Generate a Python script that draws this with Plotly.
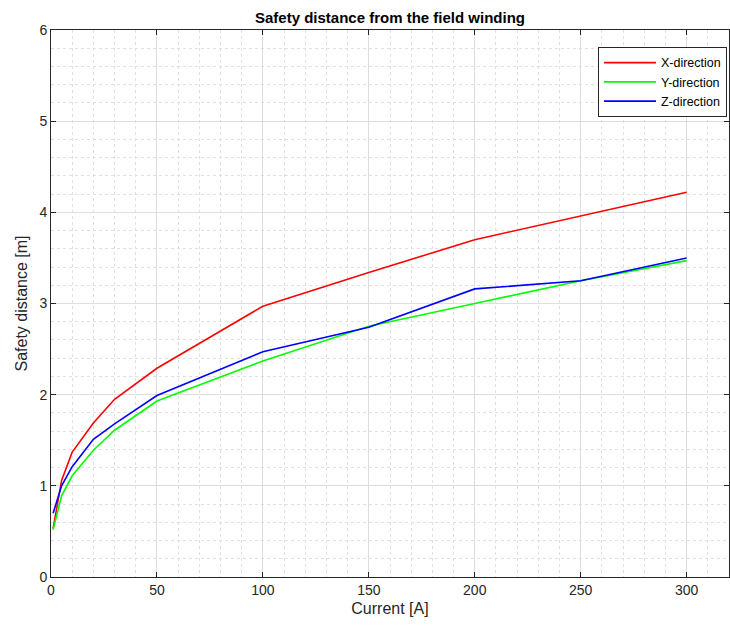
import plotly.graph_objects as go

# Current in amperes
current = [1, 5, 10, 20, 30, 50, 100, 150, 200, 250, 300]

# Safety distance in metres per direction
dist_x = [0.53, 1.06, 1.37, 1.69, 1.95, 2.29, 2.97, 3.34, 3.70, 3.96, 4.22]
dist_y = [0.52, 0.89, 1.11, 1.39, 1.61, 1.93, 2.37, 2.75, 3.00, 3.25, 3.47]
dist_z = [0.70, 1.00, 1.21, 1.51, 1.68, 1.99, 2.47, 2.74, 3.16, 3.25, 3.50]

series = [
    ("X-direction", dist_x, "#ff0000"),
    ("Y-direction", dist_y, "#00ff00"),
    ("Z-direction", dist_z, "#0000ff"),
]

fig = go.Figure()
for name, vals, color in series:
    fig.add_trace(go.Scatter(x=current, y=vals, mode="lines", name=name,
                             line=dict(color=color, width=1.6)))

font_family = "Liberation Sans, Arial, sans-serif"
axis_common = dict(
    showline=True, linecolor="#262626", linewidth=1, mirror="ticks",
    ticks="inside", ticklen=5, tickcolor="#262626",
    showgrid=True, gridcolor="#dedede", gridwidth=1,
    zeroline=False,
    tickfont=dict(family=font_family, size=14, color="#262626"),
)

fig.update_layout(
    width=730, height=626,
    margin=dict(l=51, r=1, t=30, b=49),
    paper_bgcolor="white", plot_bgcolor="white",
    title=dict(text="<b>Safety distance from the field winding</b>",
               x=0.5, xanchor="center", xref="paper", y=0.972, yanchor="middle",
               font=dict(family=font_family, size=15, color="black")),
    xaxis=dict(range=[0, 320], tickvals=[0, 50, 100, 150, 200, 250, 300],
               title=dict(text="Current [A]", standoff=6,
                          font=dict(family=font_family, size=16, color="#262626")),
               minor=dict(dtick=10, showgrid=True, griddash="dot",
                          gridcolor="#e0e0e0", ticks=""),
               **axis_common),
    yaxis=dict(range=[0, 6], tickvals=[0, 1, 2, 3, 4, 5, 6],
               title=dict(text="Safety distance [m]", standoff=7,
                          font=dict(family=font_family, size=16, color="#262626")),
               minor=dict(dtick=0.2, showgrid=True, griddash="dot",
                          gridcolor="#e0e0e0", ticks=""),
               **axis_common),
    legend=dict(x=0.997, xanchor="right", y=0.969, yanchor="top",
                bgcolor="white", bordercolor="#262626", borderwidth=1,
                font=dict(family=font_family, size=12.5, color="black"),
                tracegroupgap=0, itemwidth=52),
    showlegend=True,
)

fig.write_html("out.html")
